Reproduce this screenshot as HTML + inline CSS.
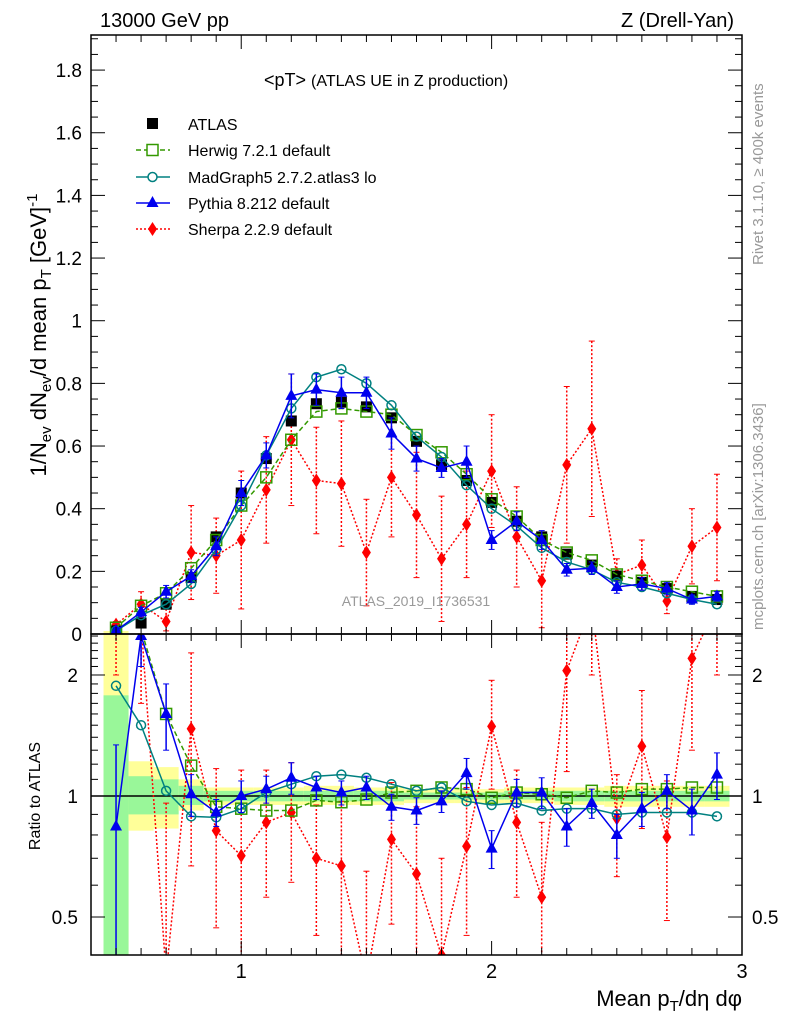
<!DOCTYPE html>
<html><head><meta charset="utf-8"><style>
html,body{margin:0;background:#fff;width:786px;height:1024px;overflow:hidden;position:relative}
svg{font-family:"Liberation Sans",sans-serif;display:block}
</style></head><body>
<svg id="c" width="786" height="1024" style="position:absolute;left:0;top:0" xmlns="http://www.w3.org/2000/svg"></svg>
<script>
const xs=[0.5,0.6,0.7,0.8,0.9,1.0,1.1,1.2,1.3,1.4,1.5,1.6,1.7,1.8,1.9,2.0,2.1,2.2,2.3,2.4,2.5,2.6,2.7,2.8,2.9];
const atlas=[0.01,0.035,0.095,0.18,0.31,0.45,0.56,0.68,0.735,0.74,0.725,0.69,0.615,0.54,0.49,0.42,0.36,0.31,0.255,0.22,0.185,0.165,0.145,0.12,0.11];
const herwig=[0.02,0.09,0.13,0.21,0.30,0.41,0.50,0.62,0.71,0.72,0.71,0.70,0.635,0.58,0.51,0.43,0.375,0.30,0.26,0.235,0.19,0.17,0.15,0.135,0.12];
const madgraph=[0.01,0.06,0.095,0.16,0.27,0.41,0.57,0.72,0.82,0.845,0.80,0.73,0.63,0.565,0.475,0.40,0.345,0.275,0.23,0.205,0.165,0.15,0.13,0.11,0.095];
const pythia=[0.01,0.07,0.135,0.185,0.28,0.45,0.57,0.76,0.78,0.77,0.77,0.64,0.56,0.53,0.55,0.30,0.36,0.30,0.205,0.21,0.15,0.16,0.145,0.11,0.12];
const pythiaErr=[0.01,0.015,0.02,0.02,0.03,0.04,0.04,0.07,0.05,0.05,0.05,0.05,0.04,0.03,0.05,0.03,0.03,0.03,0.02,0.02,0.02,0.02,0.02,0.015,0.015];
const sherpa=[0.03,0.095,0.04,0.26,0.25,0.30,0.46,0.62,0.49,0.48,0.26,0.50,0.38,0.24,0.35,0.52,0.31,0.17,0.54,0.655,0.19,0.22,0.105,0.28,0.34];
const sherpaErr=[0.01,0.04,0.04,0.15,0.12,0.22,0.17,0.21,0.17,0.20,0.17,0.19,0.20,0.20,0.17,0.18,0.16,0.15,0.25,0.28,0.05,0.08,0.04,0.12,0.17];
const rHerwig=[2.8,2.6,1.6,1.19,0.94,0.93,0.92,0.92,0.975,0.965,0.98,1.02,1.03,1.05,1.04,0.99,1.02,1.01,0.99,1.03,1.02,1.04,1.04,1.05,1.05];
const rMadgraph=[1.88,1.5,1.03,0.89,0.885,0.93,1.02,1.07,1.12,1.13,1.11,1.07,1.03,1.05,0.97,0.95,0.96,0.92,0.93,0.93,0.90,0.91,0.91,0.91,0.89];
const rPythia=[0.84,2.5,1.6,1.01,0.91,1.0,1.04,1.11,1.05,1.02,1.05,0.94,0.92,0.97,1.14,0.74,1.02,1.02,0.84,0.96,0.80,0.93,1.03,0.92,1.13];
const rPythiaErr=[0.5,0.4,0.3,0.12,0.07,0.09,0.08,0.1,0.07,0.07,0.07,0.07,0.07,0.06,0.1,0.08,0.08,0.09,0.09,0.08,0.1,0.09,0.1,0.12,0.15];
const rSherpa=[3.0,2.7,0.36,1.47,0.82,0.71,0.86,0.91,0.70,0.67,0.35,0.78,0.64,0.40,0.75,1.49,0.86,0.56,2.05,3.0,0.88,1.33,0.79,2.2,3.0];
const rSherpaErr=[1,1,0.6,0.8,0.35,0.45,0.3,0.3,0.25,0.3,0.3,0.3,0.3,0.3,0.3,0.45,0.3,0.3,0.9,1,0.25,0.5,0.3,0.9,1];
const bandX=[0.45,0.55,0.65,0.75,0.85,1.05,1.25,1.45,1.65,1.85,2.05,2.25,2.45,2.65,2.85,2.95];
const yellowLo=[0.33,0.82,0.83,0.92,0.95,0.95,0.95,0.95,0.96,0.96,0.96,0.95,0.94,0.94,0.94];
const yellowHi=[2.6,1.22,1.18,1.10,1.05,1.05,1.06,1.05,1.04,1.04,1.05,1.05,1.06,1.06,1.06];
const greenLo=[0.33,0.9,0.9,0.95,0.97,0.97,0.97,0.97,0.98,0.98,0.98,0.97,0.97,0.97,0.97];
const greenHi=[1.78,1.12,1.1,1.06,1.03,1.03,1.03,1.03,1.02,1.02,1.03,1.03,1.03,1.03,1.03];
const yTicks=[0,0.2,0.4,0.6,0.8,1,1.2,1.4,1.6,1.8];
const rTicks=[0.5,1,2];

const NS="http://www.w3.org/2000/svg",svg=document.getElementById('c');
const L=91,R=742,T=35,B=634,RB=955;
const X=v=>L+(v-0.4)/2.6*(R-L);
const Yraw=v=>B-v/1.912*(B-T);
const RYraw=v=>796-402*Math.log10(v);
const Y=v=>Math.max(T,Math.min(B,Yraw(v)));
const RY=v=>Math.max(B,Math.min(RB,RYraw(v)));
function mk(t,a,p){const e=document.createElementNS(NS,t);for(const k in a)e.setAttribute(k,a[k]);(p||svg).appendChild(e);return e;}
function txt(s,a,p){const e=mk('text',a,p);e.textContent=s;return e;}
const cp=mk('defs',{});
const c1=mk('clipPath',{id:'cm'},cp);mk('rect',{x:L,y:T,width:R-L,height:B-T},c1);
const c2=mk('clipPath',{id:'cr'},cp);mk('rect',{x:L,y:B,width:R-L,height:RB-B},c2);
const gm=mk('g',{'clip-path':'url(#cm)'});
const gr=mk('g',{'clip-path':'url(#cr)'});

for(let i=0;i<yellowLo.length;i++){
 const r=mk('rect',{x:X(bandX[i]),width:X(bandX[i+1])-X(bandX[i]),y:RY(yellowHi[i]),height:RY(yellowLo[i])-RY(yellowHi[i]),fill:'#ffff99'},gr);
 
 const g=mk('rect',{x:X(bandX[i]),width:X(bandX[i+1])-X(bandX[i]),y:RY(greenHi[i]),height:RY(greenLo[i])-RY(greenHi[i]),fill:'#99f799'},gr);
 
}
mk('rect',{x:X(0.45),y:B-3,width:X(0.55)-X(0.45),height:3,fill:'#ffff99'},gm);
mk('line',{x1:L,x2:R,y1:796,y2:796,stroke:'#000','stroke-width':1.5},gr);

function series(g,vals,yf,yr,lo,hi,col,dash,marker,name,errs,noLine){
 const pts=xs.map((x,i)=>[X(x),yf(vals[i]),yr(vals[i])]);
 if(!noLine){const pl=mk('polyline',{points:pts.map(p=>p[0]+','+Math.max(lo-30,Math.min(hi+30,p[2]))).join(' '),fill:'none',stroke:col,'stroke-width':1.5,'stroke-dasharray':dash||'none'},g);
 }
 pts.forEach((p,i)=>{
  const inside=p[2]>=lo-2&&p[2]<=hi+2;
  if(errs){const y1=yf(vals[i]+errs[i]),y2=yf(Math.max(vals[i]-errs[i],0.01));
   mk('line',{x1:p[0],x2:p[0],y1:y1,y2:y2,stroke:col,'stroke-width':1.5,'stroke-dasharray':dash||'none'},g);
   mk('line',{x1:p[0]-3,x2:p[0]+3,y1:y1,y2:y1,stroke:col,'stroke-width':1},g);
   mk('line',{x1:p[0]-3,x2:p[0]+3,y1:y2,y2:y2,stroke:col,'stroke-width':1},g);}
  if(!inside)return;
  let m;
  if(marker==='sq')m=mk('rect',{x:p[0]-5.5,y:p[1]-5.5,width:11,height:11,fill:'none',stroke:col,'stroke-width':1.5},g);
  else if(marker==='fsq')m=mk('rect',{x:p[0]-5.5,y:p[1]-5.5,width:11,height:11,fill:col},g);
  else if(marker==='circ')m=mk('circle',{cx:p[0],cy:p[1],r:4.5,fill:'none',stroke:col,'stroke-width':1.5},g);
  else if(marker==='tri')m=mk('path',{d:`M${p[0]},${p[1]-7}L${p[0]+6},${p[1]+4}L${p[0]-6},${p[1]+4}Z`,fill:col},g);
  else m=mk('path',{d:`M${p[0]},${p[1]-7}L${p[0]+4.5},${p[1]}L${p[0]},${p[1]+7}L${p[0]-4.5},${p[1]}Z`,fill:col},g);
  
 });
}
series(gm,sherpa,Y,Yraw,T,B,'#ff0000','2,2','dia','sherpa',sherpaErr);
series(gm,atlas,Y,Yraw,T,B,'#000',null,'fsq','atlas',null,true);
series(gm,herwig,Y,Yraw,T,B,'#339900','5,3','sq','herwig');
series(gm,madgraph,Y,Yraw,T,B,'#008080',null,'circ','madgraph');
series(gm,pythia,Y,Yraw,T,B,'#0000ee',null,'tri','pythia',pythiaErr);
series(gr,rSherpa,RY,RYraw,B,RB,'#ff0000','2,2','dia','sherpa-ratio',rSherpaErr);
series(gr,rHerwig,RY,RYraw,B,RB,'#339900','5,3','sq','herwig-ratio');
series(gr,rMadgraph,RY,RYraw,B,RB,'#008080',null,'circ','madgraph-ratio');
series(gr,rPythia,RY,RYraw,B,RB,'#0000ee',null,'tri','pythia-ratio',rPythiaErr);

mk('rect',{x:L,y:T,width:R-L,height:B-T,fill:'none',stroke:'#000','stroke-width':1.5});
mk('rect',{x:L,y:B,width:R-L,height:RB-B,fill:'none',stroke:'#000','stroke-width':1.5});
for(let k=4;k<=30;k++){const v=k/10,x=X(v),maj=(k%10===0);const len=maj?14:7;
 mk('line',{x1:x,x2:x,y1:B,y2:B-len,stroke:'#000'});mk('line',{x1:x,x2:x,y1:T,y2:T+len,stroke:'#000'});
 mk('line',{x1:x,x2:x,y1:RB,y2:RB-len,stroke:'#000'});mk('line',{x1:x,x2:x,y1:B,y2:B+len,stroke:'#000'});
 if(maj){const t=txt(String(v),{x:x,y:978,'font-size':20,'text-anchor':'middle'});}}
for(let k=0;k<=38;k++){const v=k*0.05,y=Y(v);const maj=(k%4===0);const len=maj?14:7;
 mk('line',{x1:L,x2:L+len,y1:y,y2:y,stroke:'#000'});mk('line',{x1:R,x2:R-len,y1:y,y2:y,stroke:'#000'});}
yTicks.forEach(v=>{const t=txt(String(v),{x:82,y:Y(v)+7,'font-size':19,'text-anchor':'end'});});
const rMin=[0.4,0.5,0.6,0.7,0.8,0.9,1,1.1,1.2,1.3,1.4,1.5,1.6,1.7,1.8,1.9,2,2.1,2.2,2.3,2.4,2.5];
rMin.forEach(v=>{const y=RY(v);const maj=rTicks.includes(v);const len=maj?14:7;
 mk('line',{x1:L,x2:L+len,y1:y,y2:y,stroke:'#000'});mk('line',{x1:R,x2:R-len,y1:y,y2:y,stroke:'#000'});});
rTicks.forEach(v=>{const t=txt(String(v),{x:78,y:RY(v)+7,'font-size':19,'text-anchor':'end'});
 const t2=txt(String(v),{x:752,y:RY(v)+7,'font-size':19});});
</script>
<svg style="position:absolute;left:0;top:0" width="786" height="1024" xmlns="http://www.w3.org/2000/svg" font-family="Liberation Sans, sans-serif">
<text x="100" y="27" font-size="20">13000 GeV pp</text>
<text x="734" y="27" font-size="20" text-anchor="end">Z (Drell-Yan)</text>
<text x="264" y="86" font-size="18">&lt;pT&gt; <tspan font-size="16">(ATLAS UE in Z production)</tspan></text>
<text x="416" y="606" font-size="14" fill="#999" text-anchor="middle">ATLAS_2019_I1736531</text>
<g font-size="16">
<rect x="147" y="118" width="11" height="11" fill="#000"/><text x="188" y="130">ATLAS</text>
<line x1="136" x2="170" y1="150" y2="150" stroke="#339900" stroke-width="1.5" stroke-dasharray="5,3"/><rect x="147" y="144.5" width="11" height="11" fill="#fff" stroke="#339900" stroke-width="1.5"/><text x="188" y="156">Herwig 7.2.1 default</text>
<line x1="136" x2="170" y1="177" y2="177" stroke="#008080" stroke-width="1.5"/><circle cx="152.5" cy="177" r="4.5" fill="#fff" stroke="#008080" stroke-width="1.5"/><text x="188" y="183">MadGraph5 2.7.2.atlas3 lo</text>
<line x1="136" x2="170" y1="203" y2="203" stroke="#0000ee" stroke-width="1.5"/><path d="M152.5,196L158.5,207L146.5,207Z" fill="#0000ee"/><text x="188" y="209">Pythia 8.212 default</text>
<line x1="136" x2="170" y1="229" y2="229" stroke="#ff0000" stroke-width="1.5" stroke-dasharray="2,2"/><path d="M152.5,222L157,229L152.5,236L148,229Z" fill="#ff0000"/><text x="188" y="235">Sherpa 2.2.9 default</text>
</g>
<text transform="translate(46,335) rotate(-90)" font-size="22" text-anchor="middle">1/N<tspan font-size="15" dy="5">ev</tspan><tspan dy="-5"> dN</tspan><tspan font-size="15" dy="5">ev</tspan><tspan dy="-5">/d mean p</tspan><tspan font-size="15" dy="5">T</tspan><tspan dy="-5"> [GeV]</tspan><tspan font-size="15" dy="-9">-1</tspan></text>
<text transform="translate(40,796) rotate(-90)" font-size="16" text-anchor="middle">Ratio to ATLAS</text>
<text x="742" y="1006" font-size="22" text-anchor="end">Mean p<tspan font-size="15" dy="5">T</tspan><tspan dy="-5">/dη dφ</tspan></text>
<text transform="translate(763,265) rotate(-90)" font-size="15" fill="#999">Rivet 3.1.10, ≥ 400k events</text>
<text transform="translate(763,630) rotate(-90)" font-size="15" fill="#999">mcplots.cern.ch [arXiv:1306.3436]</text>
</svg>
</body></html>
